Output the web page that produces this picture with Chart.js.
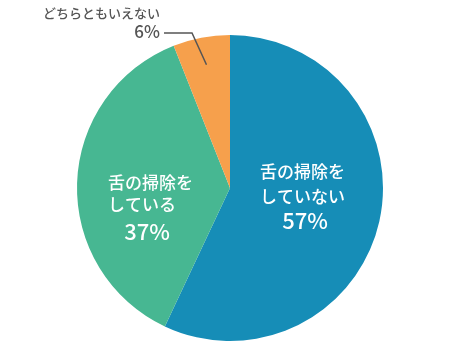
<!DOCTYPE html>
<html><head><meta charset="utf-8">
<script src="https://cdn.jsdelivr.net/npm/chart.js@4"></script>
<style>html,body{margin:0;padding:0;background:#fff}#wrap{width:450px;height:355px}</style>
</head><body><div id="wrap"><canvas id="c" width="450" height="355"></canvas></div>
<script>
const categories = ["舌の掃除をしていない", "舌の掃除をしている", "どちらともいえない"];
const values = [57, 37, 6];
const percentLabels = ["57%", "37%", "6%"];
const colors = ["#168db7", "#47b792", "#f6a04c"];

const labelPlugin = {
  id: 'labels',
  afterDatasetsDraw(chart) {
    const ctx = chart.ctx;
    const arcs = chart.getDatasetMeta(0).data;
    const cx = arcs[0].x, cy = arcs[0].y, r = arcs[0].outerRadius;
    const fam = '"Noto Sans CJK JP", "Noto Sans", sans-serif';
    ctx.save();
    ctx.textBaseline = 'middle';
    // blue slice
    ctx.fillStyle = '#fff';
    ctx.font = '500 17px ' + fam;
    ctx.textAlign = 'left';
    ctx.fillText('舌の掃除を', cx + 30, cy - 16);
    ctx.fillText('していない', cx + 30, cy + 9);
    ctx.textAlign = 'center';
    ctx.font = '500 22px ' + fam;
    ctx.fillText(percentLabels[0], cx + 75, cy + 33);
    // green slice
    ctx.textAlign = 'left';
    ctx.font = '500 17px ' + fam;
    ctx.fillText('舌の掃除を', cx - 122, cy - 5);
    ctx.fillText('している', cx - 122, cy + 17);
    ctx.textAlign = 'center';
    ctx.font = '500 22px ' + fam;
    ctx.fillText(percentLabels[1], cx - 83, cy + 44);
    // orange slice (outside)
    const a = arcs[2];
    const mid = (a.startAngle + a.endAngle) / 2;
    const px = cx + Math.cos(mid) * r * 0.82, py = cy + Math.sin(mid) * r * 0.82;
    ctx.strokeStyle = '#555';
    ctx.lineWidth = 1.5;
    ctx.beginPath();
    ctx.moveTo(px, py);
    ctx.lineTo(192, 33);
    ctx.lineTo(164, 33);
    ctx.stroke();
    ctx.fillStyle = '#555';
    ctx.textAlign = 'right';
    ctx.font = '500 13px ' + fam;
    ctx.fillText(categories[2], 160, 13);
    ctx.font = '500 17px ' + fam;
    ctx.fillText(percentLabels[2], 160, 32);
    ctx.restore();
  }
};

new Chart(document.getElementById('c'), {
  type: 'pie',
  data: {
    labels: categories,
    datasets: [{ data: values, backgroundColor: colors, borderWidth: 0 }]
  },
  options: {
    responsive: false,
    animation: false,
    layout: { padding: { left: 77, right: 67, top: 35, bottom: 14 } },
    plugins: { legend: { display: false }, tooltip: { enabled: false } }
  },
  plugins: [labelPlugin]
});
</script></body></html>
